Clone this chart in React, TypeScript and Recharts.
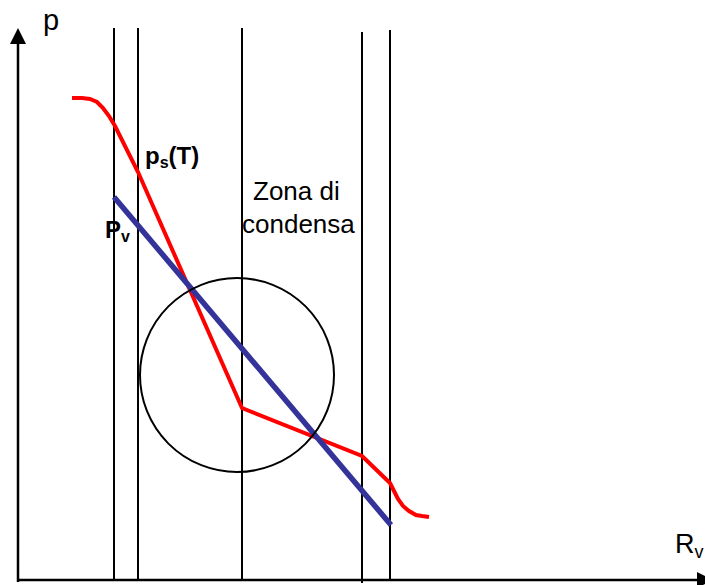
import React from 'react';
import { ComposedChart, Line, XAxis, YAxis, ReferenceLine, ReferenceDot } from 'recharts';

// Data coordinates: x = resistance axis (R_v), y = pressure axis (p)
const verticalX = [96, 120, 224, 344, 372];
const verticalTop = [552, 552, 552, 548, 550];
const verticalBottom = [0, 0, 0, -3, 0];

const redX = [54, 64, 72, 79, 85, 91, 97, 120, 224, 344, 372, 376, 380, 385, 391, 398, 404, 411];
const redY = [482, 482, 481, 478, 472, 464, 454, 408, 172, 124, 97, 89, 81, 74, 69, 65, 64, 63];

const blueX = [96, 373];
const blueY = [383, 55];

const circleCenter = { x: 219, y: 205 };
const circleRadius = 97;

const yAxisEnd = 552;
const xAxisEnd = 695;

const redData = redX.map((x, i) => ({ x, y: redY[i] }));
const blueData = blueX.map((x, i) => ({ x, y: blueY[i] }));

const FONT = 'Liberation Sans, Arial, sans-serif';

const ArrowLine = (props: any) => {
  const { x1, y1, x2, y2 } = props;
  const dx = x2 - x1;
  const dy = y2 - y1;
  const len = Math.sqrt(dx * dx + dy * dy) || 1;
  const ux = dx / len;
  const uy = dy / len;
  const headLen = 16;
  const headHalf = 8;
  const bx = x2 - ux * headLen;
  const by = y2 - uy * headLen;
  const px = -uy;
  const py = ux;
  return (
    <g>
      <line x1={x1} y1={y1} x2={bx} y2={by} stroke="#000" strokeWidth={2.5} />
      <polygon
        points={`${x2},${y2} ${bx + px * headHalf},${by + py * headHalf} ${bx - px * headHalf},${by - py * headHalf}`}
        fill="#000"
      />
    </g>
  );
};

const makeText = (content: React.ReactNode, size: number, weight: string) => (props: any) => {
  const { cx, cy } = props;
  return (
    <text x={cx} y={cy} fontFamily={FONT} fontSize={size} fontWeight={weight} fill="#000">
      {content}
    </text>
  );
};

const CircleShape = (props: any) => {
  const { cx, cy } = props;
  return <circle cx={cx} cy={cy} r={circleRadius} fill="none" stroke="#000" strokeWidth={2} />;
};

export default function App() {
  return (
    <div style={{ position: 'absolute', left: 0, top: 0, width: 705, height: 585, background: '#fff' }}>
      <ComposedChart width={705} height={585} margin={{ top: 0, right: 0, bottom: 0, left: 0 }}>
        <XAxis type="number" dataKey="x" domain={[-18, 687]} hide allowDataOverflow />
        <YAxis type="number" dataKey="y" domain={[-5, 580]} hide allowDataOverflow />
        {verticalX.map((x, i) => (
          <ReferenceLine
            key={'v' + i}
            segment={[{ x, y: verticalBottom[i] }, { x, y: verticalTop[i] }]}
            stroke="#000"
            strokeWidth={2}
            ifOverflow="visible"
          />
        ))}
        <ReferenceLine
          segment={[{ x: 0, y: -2 }, { x: 0, y: yAxisEnd }]}
          ifOverflow="visible"
          shape={ArrowLine}
        />
        <ReferenceLine
          segment={[{ x: 0, y: 0 }, { x: xAxisEnd, y: 0 }]}
          ifOverflow="visible"
          shape={ArrowLine}
        />
        <ReferenceDot x={circleCenter.x} y={circleCenter.y} r={circleRadius} shape={CircleShape} ifOverflow="visible" />
        <Line
          data={redData}
          dataKey="y"
          type="linear"
          stroke="#ff0000"
          strokeWidth={4}
          dot={false}
          activeDot={false}
          isAnimationActive={false}
        />
        <Line
          data={blueData}
          dataKey="y"
          type="linear"
          stroke="#333399"
          strokeWidth={5.5}
          dot={false}
          activeDot={false}
          isAnimationActive={false}
        />
        <ReferenceDot x={25} y={550} r={1} ifOverflow="visible" shape={makeText('p', 29, 'normal')} />
        <ReferenceDot
          x={127}
          y={416}
          r={1}
          ifOverflow="visible"
          shape={makeText(
            <>
              p<tspan fontSize={16} dy={4}>s</tspan>
              <tspan dy={-4}>(T)</tspan>
            </>,
            24,
            'bold'
          )}
        />
        <ReferenceDot
          x={87}
          y={342}
          r={1}
          ifOverflow="visible"
          shape={makeText(
            <>
              P<tspan fontSize={16} dy={4}>v</tspan>
            </>,
            24,
            'bold'
          )}
        />
        <ReferenceDot x={235} y={380} r={1} ifOverflow="visible" shape={makeText('Zona di', 26, 'normal')} />
        <ReferenceDot x={224} y={347} r={1} ifOverflow="visible" shape={makeText('condensa', 26, 'normal')} />
        <ReferenceDot
          x={657}
          y={27}
          r={1}
          ifOverflow="visible"
          shape={makeText(
            <>
              R<tspan fontSize={18} dy={5}>v</tspan>
            </>,
            27,
            'normal'
          )}
        />
      </ComposedChart>
    </div>
  );
}
